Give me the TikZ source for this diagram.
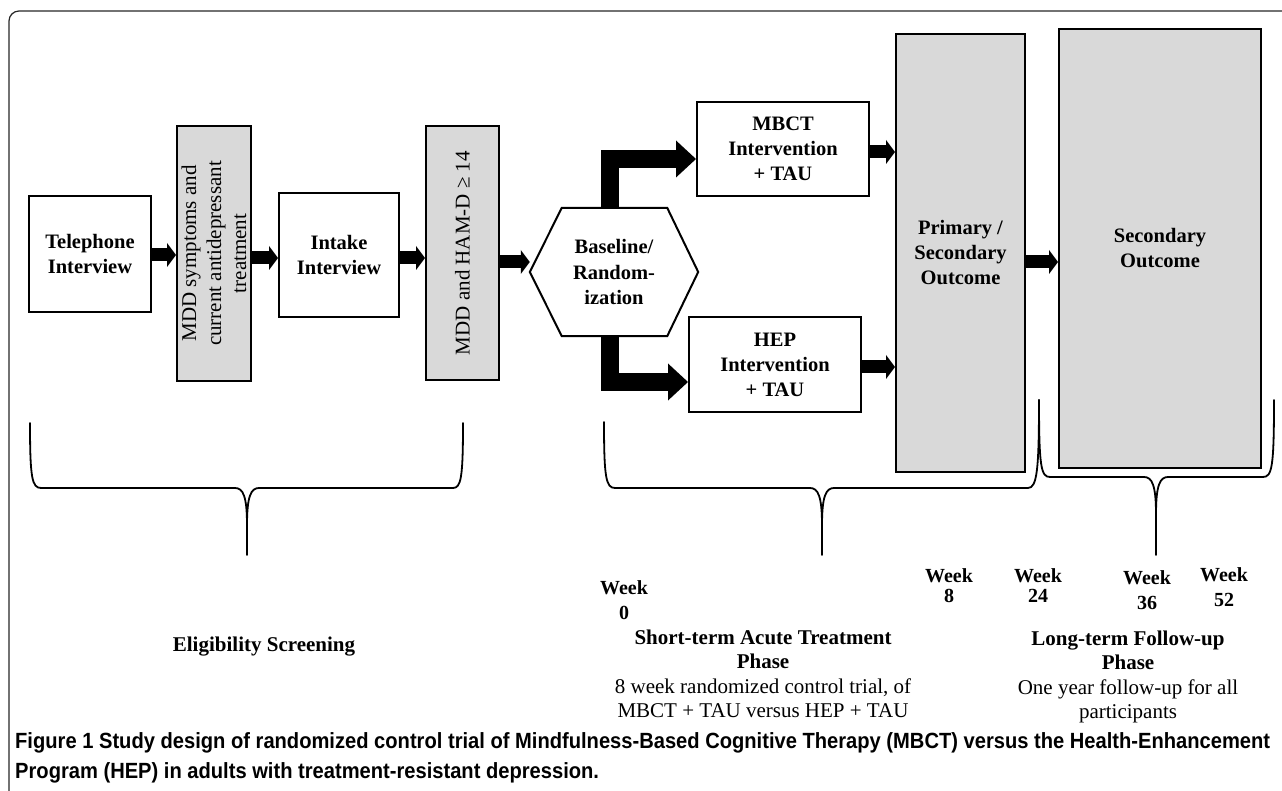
\documentclass[tikz,border=0pt]{standalone}
\usepackage{fontspec}
\setmainfont{Liberation Serif}
\newfontfamily\capfont[FakeStretch=0.915]{Liberation Sans}
\usetikzlibrary{arrows.meta}
\definecolor{boxgray}{HTML}{D9D9D9}
\begin{document}
\begin{tikzpicture}[x=1pt,y=-1pt,
  wbox/.style={draw, line width=2pt, fill=white, inner sep=0pt, align=center, font=\fontsize{20.5}{25}\selectfont\bfseries},
  gbox/.style={draw, line width=2pt, fill=boxgray, inner sep=0pt},
  vtext/.style={rotate=90, align=center, inner sep=0pt, font=\fontsize{21}{25}\selectfont},
  arr/.style={line width=13pt, -{Triangle[length=9pt,width=24pt,line width=0pt]}},
  bigarr/.style={line width=18pt, -{Triangle[length=20pt,width=37pt,line width=0pt]}},
  brace/.style={line width=1.8pt, line cap=round, line join=round},
  lbl/.style={align=center, inner sep=0pt, font=\fontsize{21}{24.5}\selectfont},
  wk/.style={align=center, inner sep=0pt, font=\fontsize{20}{25}\selectfont\bfseries},
  captxt/.style={anchor=base west, inner sep=0pt, font=\capfont\bfseries\fontsize{22}{30}\selectfont}
]
\useasboundingbox (0,0) rectangle (1282,791);
% frame
\draw[line width=1.2pt, black!85, rounded corners=10pt] (1284,11) -- (9,11) -- (9,793);

% boxes
\node[wbox, minimum width=122pt, minimum height=116pt] (tel) at (90,254) {Telephone\\Interview};
\node[gbox, minimum width=74pt, minimum height=255pt] (mdd1) at (214,253.5) {};
\node[vtext] (mdd1t) at (mdd1) {MDD symptoms and\\current antidepressant\\treatment};
\node[wbox, minimum width=120pt, minimum height=124pt] (intake) at (339,255) {Intake\\Interview};
\node[gbox, minimum width=73pt, minimum height=254pt] (mdd2) at (462.5,253) {};
\node[vtext] (mdd2t) at (mdd2) {MDD and HAM-D ≥ 14};
\node[inner sep=0pt, minimum width=168pt, minimum height=128pt, align=center, font=\fontsize{20.5}{25.5}\selectfont\bfseries] (hex) at (614,272) {Baseline/\\Random-\\ization};
\draw[line width=2pt, line join=miter] (hex.west) -- ([xshift=32pt]hex.north west) -- ([xshift=-31pt]hex.north east) -- (hex.east) -- ([xshift=-31pt]hex.south east) -- ([xshift=32pt]hex.south west) -- cycle;
\node[wbox, minimum width=172pt, minimum height=94pt] (mbct) at (783,149) {MBCT\\Intervention\\+ TAU};
\node[wbox, minimum width=172pt, minimum height=95pt] (hep) at (775,364.5) {HEP\\Intervention\\+ TAU};
\node[gbox, align=center, font=\fontsize{20.5}{25}\selectfont\bfseries, minimum width=129pt, minimum height=438pt] (prim) at (960.5,253) {Primary /\\Secondary\\Outcome};
\node[gbox, align=center, font=\fontsize{20.5}{25}\selectfont\bfseries, minimum width=202pt, minimum height=439pt] (sec) at (1160,248.5) {Secondary\\Outcome};

% arrows
\draw[arr] (tel.east |- 0,255) -- (mdd1.west |- 0,255);
\draw[arr] (mdd1.east |- 0,258) -- (intake.west |- 0,258);
\draw[arr] (intake.east |- 0,258) -- (mdd2.west |- 0,258);
\draw[arr] (mdd2.east |- 0,262) -- (hex.west |- 0,262);
\draw[bigarr] (hex.north -| 610,0) |- (mbct.west |- 0,159);
\draw[bigarr] (hex.south -| 610,0) |- (hep.west |- 0,382);
\draw[arr] (mbct.east |- 0,152) -- (prim.west |- 0,152);
\draw[arr] (hep.east |- 0,367) -- (prim.west |- 0,367);
\draw[arr] (prim.east |- 0,262) -- (sec.west |- 0,262);

% braces
\draw[brace] (30,423) .. controls (30,478) and (32,488) .. (41,488) -- (235,488) .. controls (243,488) and (247,496) .. (247,525) -- (247,555);
\draw[brace] (247,525) .. controls (247,496) and (251,488) .. (259,488) -- (453,488) .. controls (461,488) and (463,478) .. (463,423);
\draw[brace] (604,422) .. controls (604,478) and (606,488) .. (615,488) -- (810,488) .. controls (818,488) and (822,496) .. (822,525) -- (822,555);
\draw[brace] (822,525) .. controls (822,496) and (826,488) .. (834,488) -- (1028,488) .. controls (1037,488) and (1039,470) .. (1039,400);
\draw[brace] (1039,400) .. controls (1039,467) and (1041,477) .. (1050,477) -- (1144,477) .. controls (1152,477) and (1156,485) .. (1156,514) -- (1156,555);
\draw[brace] (1156,514) .. controls (1156,485) and (1160,477) .. (1168,477) -- (1263,477) .. controls (1272,477) and (1274,467) .. (1274,400);

% labels
\node[lbl, font=\fontsize{21}{24.5}\selectfont\bfseries] (elig) at (264,647) {Eligibility Screening};
\node[wk] (w0) at (624,600) {Week\\0};
\node[wk] (w8) at (949,586) {Week\\[-5pt]8};
\node[wk] (w24) at (1038,586) {Week\\[-5pt]24};
\node[wk] (w36) at (1147,590) {Week\\36};
\node[wk] (w52) at (1224,587) {Week\\52};
\node[lbl] (short) at (763,674) {\textbf{Short-term Acute Treatment}\\\textbf{Phase}\\8 week randomized control trial, of\\MBCT + TAU versus HEP + TAU};
\node[lbl] (long) at (1128,677) {\textbf{Long-term Follow-up}\\\textbf{Phase}\\One year follow-up for all\\participants};

% caption
\node[captxt] (cap1) at (15,748) {Figure 1 Study design of randomized control trial of Mindfulness-Based Cognitive Therapy (MBCT) versus the Health-Enhancement};
\node[captxt] (cap2) at (15,778) {Program (HEP) in adults with treatment-resistant depression.};
\end{tikzpicture}
\end{document}
